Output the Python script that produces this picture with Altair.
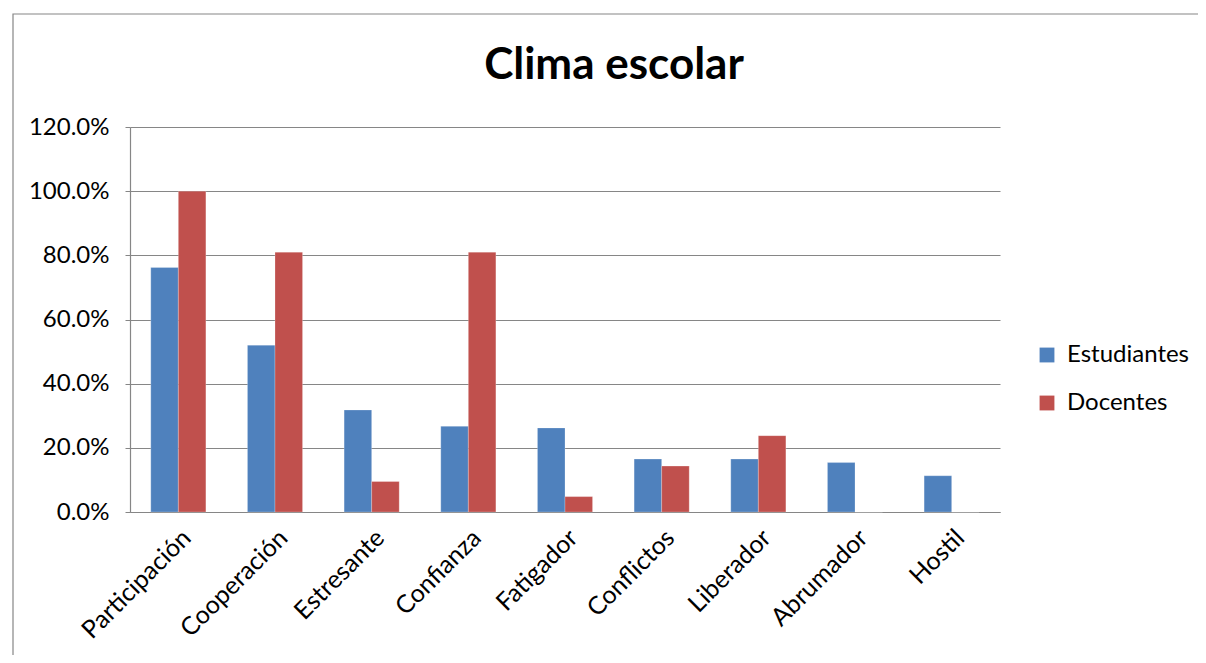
import altair as alt
import pandas as pd

categories = ["Participación", "Cooperación", "Estresante", "Confianza", "Fatigador",
              "Conflictos", "Liberador", "Abrumador", "Hostil"]
estudiantes = [0.762, 0.520, 0.318, 0.267, 0.262, 0.165, 0.165, 0.154, 0.113]
docentes = [1.000, 0.810, 0.095, 0.810, 0.048, 0.143, 0.238, 0.0, 0.0]
series = ["Estudiantes", "Docentes"]
colors = ["#4F81BD", "#C0504D"]

rows = []
for c, e, d in zip(categories, estudiantes, docentes):
    rows.append({"cat": c, "serie": series[0], "val": e})
    rows.append({"cat": c, "serie": series[1], "val": d})
df = pd.DataFrame(rows)

FONT = "Lato"

frame = alt.Chart(alt.Data(values=[{}])).mark_rect(
    fill=None, stroke="#868686", strokeWidth=1.2
).encode(
    x=alt.value(-117), x2=alt.value(1100), y=alt.value(-113), y2=alt.value(560)
)

bars = alt.Chart(df).mark_bar(stroke="#ffffff", strokeWidth=0.4, strokeOpacity=0.6).encode(
    x=alt.X("cat:N", sort=categories, title=None,
            scale=alt.Scale(paddingInner=0.43, paddingOuter=0.215),
            axis=alt.Axis(labelAngle=-45, labelFontSize=25, labelFont=FONT,
                          labelColor="#000000", ticks=False, domainColor="#868686",
                          labelPadding=13, grid=False)),
    xOffset=alt.XOffset("serie:N", sort=series),
    y=alt.Y("val:Q", title=None,
            scale=alt.Scale(domain=[0, 1.2]),
            axis=alt.Axis(format=".1%", values=[0, 0.2, 0.4, 0.6, 0.8, 1.0, 1.2],
                          labelFontSize=24, labelFont=FONT, labelColor="#000000",
                          gridColor="#868686", gridWidth=1.2, domainColor="#868686",
                          tickColor="#868686", tickSize=5, labelPadding=16)),
    color=alt.Color("serie:N", sort=series,
                    scale=alt.Scale(domain=series, range=colors),
                    legend=alt.Legend(title=None, orient="none", legendX=905, legendY=216,
                                      symbolType="square", symbolSize=220,
                                      symbolStrokeWidth=0,
                                      labelFontSize=24, labelFont=FONT, labelColor="#000000",
                                      rowPadding=24, labelOffset=8)),
)

chart = alt.layer(frame, bars).properties(
    width=870, height=385,
    autosize=alt.AutoSizeParams(type="none"),
    padding={"left": 122, "top": 119, "right": 198, "bottom": 143},
    title=alt.Title("Clima escolar", fontSize=44, font=FONT, fontWeight="bold",
                    color="#000000", anchor="middle", dx=49, offset=-75),
).configure_view(stroke=None).configure_axis(domainWidth=1.2)

chart.save("out.html", embed_options={"renderer": "svg", "actions": False})
